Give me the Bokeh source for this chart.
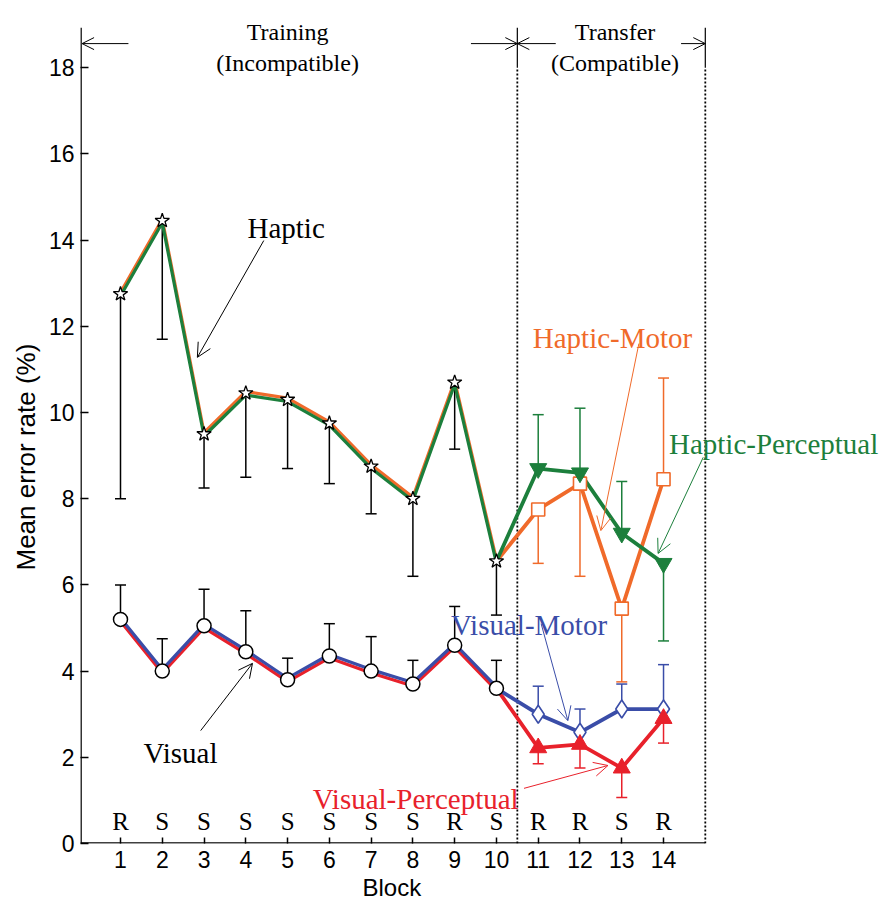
from bokeh.plotting import figure
from bokeh.models import Range1d, Arrow, OpenHead, Label, FixedTicker, Title
from bokeh.core.properties import value
from bokeh.embed import file_html
from bokeh.resources import INLINE

# ---------------- data ----------------
blocks_train = [1, 2, 3, 4, 5, 6, 7, 8, 9, 10]
blocks_transfer = [11, 12, 13, 14]
all_blocks = blocks_train + blocks_transfer
rs_labels = ["R", "S", "S", "S", "S", "S", "S", "S", "R", "S", "R", "R", "S", "R"]
y_ticks = [0, 2, 4, 6, 8, 10, 12, 14, 16, 18]

haptic = [12.75, 14.45, 9.5, 10.45, 10.3, 9.75, 8.75, 8.0, 10.7, 6.55]
haptic_err_end = [8.0, 11.7, 8.25, 8.5, 8.7, 8.35, 7.65, 6.2, 9.15, 5.3]
visual = [5.2, 4.0, 5.05, 4.45, 3.8, 4.35, 4.0, 3.7, 4.6, 3.6]
visual_err_end = [6.0, 4.75, 5.9, 5.4, 4.3, 5.1, 4.8, 4.25, 5.5, 4.25]

haptic_motor = [7.75, 8.35, 5.45, 8.45]
haptic_motor_err_end = [6.5, 6.2, 3.75, 10.8]
haptic_perceptual = [8.7, 8.6, 7.2, 6.5]
haptic_perceptual_err_end = [9.95, 10.1, 8.4, 4.7]
visual_motor = [3.0, 2.58, 3.12, 3.12]
visual_motor_err_end = [3.65, 3.12, 3.7, 4.15]
visual_perceptual = [2.22, 2.3, 1.75, 2.9]
visual_perceptual_err_end = [1.85, 1.75, 1.07, 2.33]

ORANGE = "#F06A2A"
GREEN = "#1C7F3C"
BLUE = "#3A4DA8"
RED = "#E8212B"
SERIF = "Liberation Serif"
SANS = "Liberation Sans"

X0, X1 = 0.0424, 19.29
Y0, Y1 = 0.0, 19.56
Y_TOP = 18.93          # top of the drawn y axis
X_END = 15             # end of the drawn x axis

# ---------------- figure ----------------
p = figure(width=884, height=906, x_range=Range1d(X0, X1), y_range=Range1d(Y0, Y1),
           output_backend="svg", toolbar_location=None,
           min_border_left=80, min_border_right=0, min_border_top=0, min_border_bottom=63)
p.outline_line_color = None
p.grid.visible = False
p.background_fill_color = "white"

p.xaxis.ticker = FixedTicker(ticks=all_blocks)
p.yaxis.ticker = FixedTicker(ticks=y_ticks)
for ax in (p.xaxis[0], p.yaxis[0]):
    ax.major_tick_out = 0
    ax.minor_tick_line_color = None
    ax.axis_line_color = None
    ax.major_tick_line_width = 1.5
    ax.major_tick_line_color = "black"
    ax.major_label_text_font = SANS
    ax.major_label_text_font_size = "23px"
    ax.major_label_text_color = "black"
p.xaxis.major_tick_in = 6
p.yaxis.major_tick_in = 8
p.xaxis.major_label_standoff = 7
p.yaxis.major_label_standoff = 6

# axis titles (placed like the reference, centred on the drawn axes)
p.add_layout(Title(text="Mean error rate (%)", text_font=SANS, text_font_size="26px",
                   text_font_style="normal", text_color="black", align="left",
                   offset=273, standoff=10), "left")
p.add_layout(Title(text="Block", text_font=SANS, text_font_size="24px",
                   text_font_style="normal", text_color="black", align="left",
                   offset=282, standoff=2), "below")

# axis lines drawn to the reference extent
p.segment(x0=[X0 + 0.012], y0=[0], x1=[X0 + 0.012], y1=[Y_TOP], line_color="black", line_width=1.6)
p.segment(x0=[X0], y0=[0.012], x1=[X_END], y1=[0.012], line_color="black", line_width=1.6)

# ---------------- phase dividers ----------------
split = (blocks_train[-1] + blocks_transfer[0]) / 2
end = blocks_transfer[-1] + 1
for xv in (split, end):
    p.segment(x0=[xv], y0=[0], x1=[xv], y1=[18.0], line_color="black", line_width=1.8, line_dash="2 2")
    p.segment(x0=[xv], y0=[18.0], x1=[xv], y1=[Y_TOP], line_color="black", line_width=1.2)

# ---------------- error bars ----------------
def errbars(xs, ys, ends, color):
    p.segment(x0=xs, y0=ys, x1=xs, y1=ends, line_color=color, line_width=1.5)
    p.scatter(xs, ends, marker="dash", size=11, line_color=color, line_width=1.5)

errbars(blocks_train, haptic, haptic_err_end, "black")
errbars(blocks_train, visual, visual_err_end, "black")
errbars(blocks_transfer, haptic_motor, haptic_motor_err_end, ORANGE)
errbars(blocks_transfer, haptic_perceptual, haptic_perceptual_err_end, GREEN)
errbars(blocks_transfer, visual_motor, visual_motor_err_end, BLUE)
errbars(blocks_transfer, visual_perceptual, visual_perceptual_err_end, RED)

# ---------------- lines ----------------
up, dn = 0.035, -0.045
last = blocks_train[-1:]
# training part: two colours side by side
p.line(blocks_train, [v + up for v in haptic], line_color=ORANGE, line_width=3.2)
p.line(blocks_train, [v + dn for v in haptic], line_color=GREEN, line_width=3.2)
p.line(blocks_train, [v + dn for v in visual], line_color=RED, line_width=3.2)
p.line(blocks_train, [v + up for v in visual], line_color=BLUE, line_width=3.2)
# transfer part
p.line(last + blocks_transfer, haptic[-1:] + haptic_motor, line_color=ORANGE, line_width=3.8)
p.line(last + blocks_transfer, haptic[-1:] + haptic_perceptual, line_color=GREEN, line_width=3.8)
p.line(last + blocks_transfer, visual[-1:] + visual_perceptual, line_color=RED, line_width=3.8)
p.line(last + blocks_transfer, visual[-1:] + visual_motor, line_color=BLUE, line_width=3.8)

# ---------------- markers ----------------
p.scatter(blocks_train, haptic, marker="star", size=15, fill_color="white", line_color="black", line_width=1.3)
p.scatter(blocks_train, visual, marker="circle", size=14, fill_color="white", line_color="black", line_width=1.5)
p.scatter(blocks_transfer, haptic_motor, marker="square", size=13, fill_color="white", line_color=ORANGE, line_width=1.6)
p.scatter(blocks_transfer, haptic_perceptual, marker="inverted_triangle", size=17, fill_color=GREEN, line_color=GREEN)
p.scatter(blocks_transfer, visual_motor, marker="diamond", size=18, fill_color="white", line_color=BLUE, line_width=1.6)
p.scatter(blocks_transfer, visual_perceptual, marker="triangle", size=17, fill_color=RED, line_color=RED)

# ---------------- R / S labels ----------------
p.text(all_blocks, [0.51] * len(all_blocks), text=rs_labels, text_font=value(SERIF),
       text_font_size="25px", text_align="center", text_baseline="middle", text_color="black")

# ---------------- annotations ----------------
def arrow(x0, y0, x1, y1, color, w=1.0, size=14):
    p.add_layout(Arrow(end=OpenHead(size=size, line_color=color, line_width=w),
                       x_start=x0, y_start=y0, x_end=x1, y_end=y1,
                       line_color=color, line_width=w))

def label(x, y, text, color="black", size="29px", align="left"):
    p.add_layout(Label(x=x, y=y, text=text, text_font=SERIF, text_font_size=size,
                       text_color=color, text_align=align, text_baseline="alphabetic"))

# phase headers
label(5.0, 18.82, "Training", size="24px", align="center")
label(5.0, 18.12, "(Incompatible)", size="24px", align="center")
label(12.84, 18.82, "Transfer", size="24px", align="center")
label(12.84, 18.12, "(Compatible)", size="24px", align="center")
arrow(1.19, 18.56, 0.08, 18.56, "black", size=12)
arrow(9.39, 18.56, split, 18.56, "black", size=12)
arrow(11.42, 18.56, split, 18.56, "black", size=12)
arrow(14.42, 18.56, end, 18.56, "black", size=12)

# series labels
label(4.04, 14.27, "Haptic")
arrow(4.43, 13.99, 2.84, 11.28, "black")
label(1.55, 2.09, "Visual")
arrow(2.92, 2.62, 4.16, 4.18, "black")
label(10.87, 11.72, "Haptic-Motor", ORANGE)
arrow(13.41, 11.6, 12.5, 7.26, ORANGE)
label(14.13, 9.28, "Haptic-Perceptual", GREEN)
arrow(14.95, 8.96, 13.87, 6.73, GREEN)
label(8.91, 5.06, "Visual-Motor", BLUE)
arrow(11.07, 5.10, 11.71, 2.85, BLUE)
label(5.6, 1.04, "Visual-Perceptual", RED)
arrow(10.66, 1.28, 12.67, 1.81, RED)

open("out.html", "w").write(file_html(p, INLINE))
